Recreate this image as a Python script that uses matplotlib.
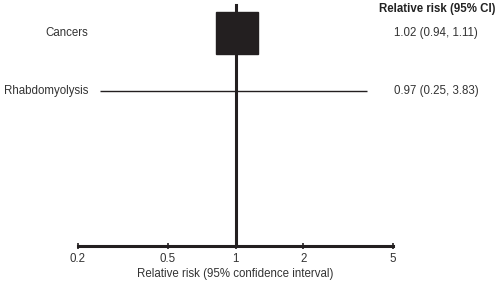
import matplotlib
matplotlib.use('Agg')
import matplotlib.pyplot as plt
from matplotlib.ticker import FixedLocator, NullLocator
import matplotlib.transforms as mtransforms

plt.rcParams['font.family'] = ['Liberation Sans', 'DejaVu Sans']

OUTCOMES = ['Cancers', 'Rhabdomyolysis']
RR = [1.02, 0.97]
CI_LOW = [0.94, 0.25]
CI_HIGH = [1.11, 3.83]
RR_TEXT = ['1.02 (0.94, 1.11)', '0.97 (0.25, 3.83)']
TICKS = [0.2, 0.5, 1, 2, 5]
TICK_LABELS = ['0.2', '0.5', '1', '2', '5']
DARK = '#231f20'
FS = 8.3

fig = plt.figure(figsize=(5, 2.83), dpi=100)
ax = fig.add_axes([78 / 500, 37 / 283, 315 / 500, 246 / 283])
ax.set_xscale('log')
ax.set_xlim(0.2, 5)
ax.set_ylim(3.67, -0.57)

rows = list(range(len(OUTCOMES)))

# confidence intervals
ax.hlines(rows, CI_LOW, CI_HIGH, color=DARK, lw=1.0, zorder=2)
# point estimate box for the weighted outcome
ax.plot(RR[0], rows[0], marker='s', ms=30, color=DARK, mec=DARK, zorder=3)

# line of no effect
ax.axvline(1, ymin=0, ymax=241 / 246, color=DARK, lw=2.2, zorder=4)

for s in ['top', 'right', 'left']:
    ax.spines[s].set_visible(False)
ax.spines['bottom'].set_linewidth(2.2)
ax.spines['bottom'].set_color(DARK)
ax.xaxis.set_major_locator(FixedLocator(TICKS))
ax.xaxis.set_minor_locator(NullLocator())
ax.set_xticklabels(TICK_LABELS)
ax.tick_params(axis='x', direction='inout', length=4, width=1.2, color=DARK,
               labelsize=FS, pad=3.2, labelcolor='#333333')
ax.set_yticks([])
ax.set_xlabel('Relative risk (95% confidence interval)', fontsize=FS,
              color='#333333', labelpad=2)

trans = mtransforms.blended_transform_factory(fig.transFigure, ax.transData)
for r, name, txt in zip(rows, OUTCOMES, RR_TEXT):
    ax.text(88 / 500, r, name, transform=trans, ha='right', va='center',
            fontsize=FS, color='#333333')
    ax.text(436 / 500, r, txt, transform=trans, ha='center', va='center',
            fontsize=FS, color='#333333')
fig.text(437 / 500, 1 - 9 / 283, 'Relative risk (95% CI)', ha='center',
         va='center', fontsize=FS, fontweight='bold', color='#222222')

fig.savefig('out.png', dpi=100)
